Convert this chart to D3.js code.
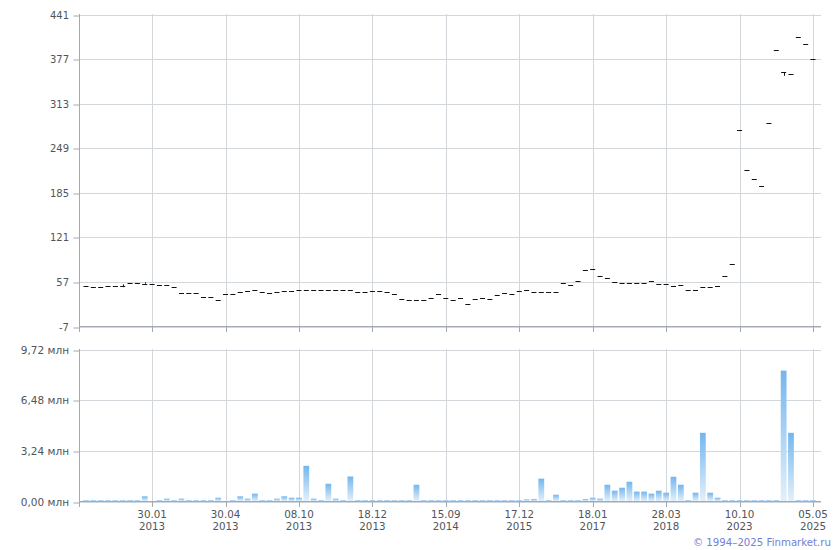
<!DOCTYPE html>
<html><head><meta charset="utf-8">
<script src="https://cdn.jsdelivr.net/npm/d3@7"></script>
<style>
html,body{margin:0;padding:0;background:#fff;}
svg text{font-family:"DejaVu Sans",Verdana,sans-serif;}
</style></head>
<body>
<svg id="chart" width="840" height="550"></svg>
<script>
// ---- data ----
const dateLabels = ['30.01','30.04','08.10','18.12','15.09','17.12','18.01','28.03','10.10','05.05'];
const yearLabels = ['2013','2013','2013','2013','2014','2015','2017','2018','2023','2025'];
const labelIndex = [9,19,29,39,49,59,69,79,89,99];
const priceTicks = [-7,57,121,185,249,313,377,441];
const volumeTicks = [0,3.24,6.48,9.72];
const closes = [
 51,49.5,49.5,50.5,51.5,51.5,55,55,54.5,53.5,52.5,52.5,49.5,40.5,40.5,40.5,36,36,31,39.5,
 39,42,44,46,43,41.5,43,44,44,45,45,46,46,46,46,46,45,43,43,44,44,43,
 39,32.3,31,31.5,31,33.4,39,33.4,31,34.3,24.8,32,33.4,32.3,38,40.5,39.5,44,45,
 43,43,42,42,55,52.4,58,74,75,66,63,57,55.3,55.3,55.3,55.3,58,54,54,51.5,52.4,46,
 45,50,50,51,66,83,274.7,218.3,205.4,194.4,285.7,389.4,358.3,356,408.5,399,377.5
];
const highs = {5:53.5, 8:56.5, 95:358.3};
const lows = {5:49.5, 8:54.5, 95:353};
const volumes = [
 0.06,0.06,0.06,0.06,0.06,0.06,0.06,0.06,0.3,0,
 0.06,0.15,0.06,0.15,0.06,0.06,0.06,0.06,0.21,0,
 0.06,0.3,0.15,0.47,0.06,0.06,0.15,0.3,0.21,0.21,
 2.25,0.15,0.06,1.1,0.15,0.06,1.57,0.06,0.06,0.06,
 0.06,0.06,0.06,0.06,0.06,1.04,0.06,0.06,0.06,0.06,
 0.06,0.06,0.06,0.06,0.06,0.06,0.06,0.06,0.06,0.06,
 0.1,0.13,1.43,0.06,0.4,0.06,0.06,0.06,0.13,0.21,
 0.15,1.04,0.66,0.85,1.23,0.6,0.6,0.47,0.66,0.53,
 1.55,1.04,0.06,0.53,4.36,0.53,0.21,0.06,0.06,0.06,
 0.06,0.06,0.06,0.06,0.06,8.34,4.36,0.06,0.06,0.06
];

// ---- layout ----
const svg = d3.select('#chart');
const left = 79.5, right = 821;
const x = d3.scaleLinear().domain([0, closes.length - 1]).range([86, 813]);
const yP = d3.scaleLinear().domain([-7, 441]).range([326.5, 14.5]);
const yV = d3.scaleLinear().domain([0, 9.72]).range([501.5, 349.5]);
const gridC = '#d3d7dc', axisC = '#a4a8b0', textC = '#50555b';
const px = v => Math.round(v) + 0.5;

// defs gradient
const defs = svg.append('defs');
const grad = defs.append('linearGradient').attr('id','volGrad').attr('x1',0).attr('x2',0).attr('y1',0).attr('y2',1);
grad.append('stop').attr('offset','0%').attr('stop-color','#74b6ee');
grad.append('stop').attr('offset','100%').attr('stop-color','#e2f0fb');

function panel(y, ticks, fmt, top, bottom, fs) {
  const g = svg.append('g');
  g.selectAll('line.h').data(ticks).join('line')
    .attr('x1', left).attr('x2', right)
    .attr('y1', d => px(y(d))).attr('y2', d => px(y(d)))
    .attr('stroke', gridC).attr('stroke-width', 1);
  g.selectAll('line.v').data(labelIndex).join('line')
    .attr('x1', d => px(x(d))).attr('x2', d => px(x(d)))
    .attr('y1', top).attr('y2', bottom)
    .attr('stroke', gridC).attr('stroke-width', 1);
  const ax = d3.axisLeft(y).tickValues(ticks).tickSize(6).tickPadding(4.5).tickFormat(fmt);
  const ag = g.append('g').attr('transform', `translate(${left},0)`).call(ax);
  ag.select('.domain').remove();
  ag.selectAll('.tick line').attr('stroke', axisC).attr('transform', d => `translate(0,${px(y(d)) - y(d)})`);
  ag.selectAll('.tick text').attr('fill', textC).style('font-size', fs)
    .attr('transform', d => `translate(0,${px(y(d)) - y(d)})`);
  g.append('line').attr('x1', left).attr('x2', left).attr('y1', top).attr('y2', bottom + 6)
    .attr('stroke', axisC);
  g.append('line').attr('x1', left).attr('x2', right).attr('y1', bottom + 0.5).attr('y2', bottom + 0.5)
    .attr('stroke', axisC);
  g.selectAll('line.t').data(labelIndex).join('line')
    .attr('x1', d => px(x(d))).attr('x2', d => px(x(d)))
    .attr('y1', bottom).attr('y2', bottom + 6).attr('stroke', axisC);
  return g;
}

panel(yP, priceTicks, d => d, 14, 326, '10px');
panel(yV, volumeTicks, d => d3.format('.2f')(d).replace('.', ',') + ' млн', 349, 501, '10.5px');

// volume bars
svg.append('g').selectAll('rect').data(volumes.map((v, i) => ({v, i})).filter(d => d.v > 0)).join('rect')
  .attr('x', d => x(d.i) - 2.9).attr('width', 5.8)
  .attr('y', d => yV(d.v) - 0.5).attr('height', d => Math.max(1, 501.5 - yV(d.v)))
  .attr('fill', 'url(#volGrad)');

// price marks
const pg = svg.append('g');
closes.forEach((c, i) => {
  const cx = x(i), cy = Math.round(yP(c)) + 0.5;
  pg.append('line').attr('x1', cx - 2.5).attr('x2', cx + 2.5).attr('y1', cy).attr('y2', cy)
    .attr('stroke', '#111').attr('stroke-width', 1);
  if (highs[i] !== undefined) {
    pg.append('line').attr('x1', Math.round(cx) + 0.5).attr('x2', Math.round(cx) + 0.5)
      .attr('y1', yP(highs[i])).attr('y2', yP(lows[i])).attr('stroke', '#111');
  }
});

// date labels
const lg = svg.append('g').style('font-size', '10.3px').attr('fill', textC).attr('text-anchor', 'middle');
labelIndex.forEach((d, k) => {
  lg.append('text').attr('x', x(d)).attr('y', 518).text(dateLabels[k]);
  lg.append('text').attr('x', x(d)).attr('y', 530).text(yearLabels[k]);
});

svg.append('text').attr('x', 831).attr('y', 546).attr('text-anchor', 'end')
  .attr('fill', '#7081d8').style('font-size', '10.2px').text('© 1994–2025 Finmarket.ru');
</script>
</body></html>
